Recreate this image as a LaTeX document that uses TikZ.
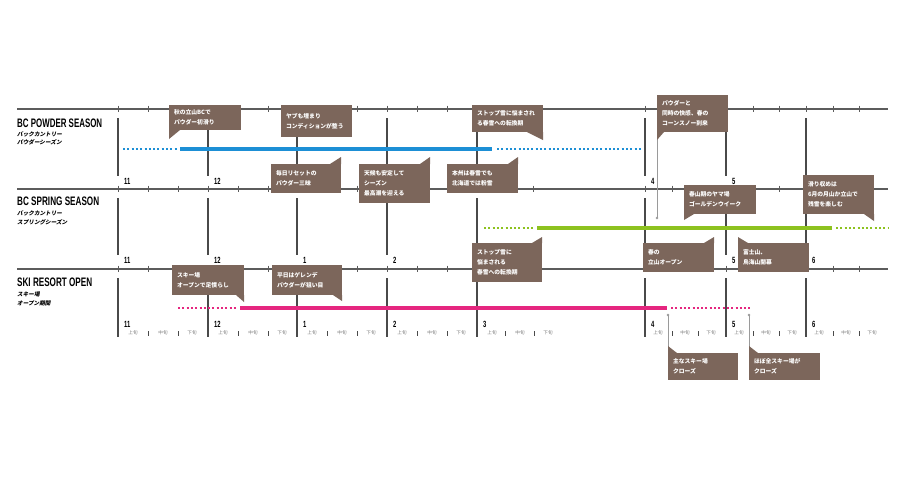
\documentclass[tikz,border=0pt]{standalone}
\usepackage{graphicx}
\usepackage{fontspec}
\setmainfont{Liberation Sans}
\newfontfamily\jp{Noto Sans CJK JP}
\newfontfamily\jpsl{Noto Sans CJK JP}[FakeSlant=0.2]
\definecolor{axgray}{HTML}{5C5C5C}
\definecolor{mgray}{HTML}{4A4A4A}
\definecolor{cbrown}{HTML}{7C665B}
\definecolor{cblue}{HTML}{1D8FD5}
\definecolor{cgreen}{HTML}{8DC21F}
\definecolor{cpink}{HTML}{E5267F}
\definecolor{leadgray}{HTML}{9A9A9A}
\definecolor{jungray}{HTML}{7A7A7A}
\begin{document}
\begin{tikzpicture}[x=1pt,y=-1pt,
  axisline/.style={draw=axgray,line width=1.3pt},
  tickmark/.style={draw=axgray,line width=1pt},
  monthline/.style={draw=mgray,line width=1.4pt},
  monthlbl/.style={font=\bfseries\fontsize{9}{9}\selectfont,inner sep=0pt,anchor=base west},
  junlbl/.style={font=\jp\fontsize{4.6}{4.6}\selectfont,text=jungray,inner sep=0pt,anchor=base},
  junbar/.style={draw=mgray,line width=0.8pt},
  title/.style={inner sep=0pt,anchor=base west},
  subt/.style={font=\jpsl\bfseries\fontsize{5.6}{7}\selectfont,inner sep=0pt,anchor=base west},
  solidbar/.style={line width=4pt},
  dotbar/.style={line width=2.4pt,dash pattern=on 2pt off 2.3pt},
  callout/.style={fill=cbrown,text=white,anchor=north west,outer sep=0pt,inner xsep=5pt,inner ysep=0pt,align=left,font=\jp\bfseries\fontsize{5.8}{10}\selectfont},
  tail/.style={fill=cbrown},
  leader/.style={draw=leadgray,line width=1pt},
]
\fill[white] (0,0) rectangle (900,483);
\useasboundingbox (0,0) rectangle (900,483);

% horizontal axes
\foreach \ry in {109,189,269}{
  \draw[axisline] (17,\ry) -- (888,\ry);
  \foreach \tx in {118,148,178,208,238,268,297,327,357,387,417,447,477,505,533,645,672,699,726,753,779,806,833,859}
    \draw[tickmark] (\tx,\ry-3.5) -- (\tx,\ry+2.5);
}

% month lines
\foreach \mx in {118,208,297,387,477,645,726,806}{
  \draw[monthline] (\mx,118) -- (\mx,176);
  \draw[monthline] (\mx,198) -- (\mx,255);
  \draw[monthline] (\mx,278) -- (\mx,337);
}
% month labels (only those not hidden by callouts)
\foreach \mx/\mn in {118/11,208/12,645/4,726/5}
  \node[monthlbl] (ma\mn) at (\mx+6,184) {\scalebox{0.65}[1]{\mn}};
\foreach \mx/\mn in {118/11,208/12,297/1,387/2,726/5,806/6}
  \node[monthlbl] (mb\mn) at (\mx+6,263.5) {\scalebox{0.65}[1]{\mn}};
\foreach \mx/\mn in {118/11,208/12,297/1,387/2,477/3,645/4,726/5,806/6}
  \node[monthlbl] (mc\mn) at (\mx+6,327) {\scalebox{0.65}[1]{\mn}};
% 上旬 中旬 下旬
\foreach \mx/\mn/\a/\b/\c/\d/\e in {118/11/15/30/45/60/74,208/12/15/30/45/60/74,297/1/15/30/45/60/74,387/2/15/30/45/60/74,477/3/15/28/43/57/71,645/4/13/27/40/53/66,726/5/13/27/40/53/66,806/6/13/27/40/53/66}{
  \node[junlbl] (ja\mn) at (\mx+\a,334.8) {上旬};
  \node[junlbl] (jb\mn) at (\mx+\c,334.8) {中旬};
  \node[junlbl] (jc\mn) at (\mx+\e,334.8) {下旬};
  \draw[junbar] (\mx+\b,331) -- (\mx+\b,335.5);
  \draw[junbar] (\mx+\d,331) -- (\mx+\d,335.5);
}

% titles
\node[title] (t1) at (17,127) {\resizebox{85pt}{8.6pt}{\bfseries BC POWDER SEASON}};
\node[subt] (s1a) at (17,136.6) {バックカントリー};
\node[subt] (s1b) at (17,144.6) {パウダーシーズン};
\node[title] (t2) at (17,205) {\resizebox{82pt}{8.6pt}{\bfseries BC SPRING SEASON}};
\node[subt] (s2a) at (17,215.6) {バックカントリー};
\node[subt] (s2b) at (17,224.6) {スプリングシーズン};
\node[title] (t3) at (17,286) {\resizebox{75pt}{8.6pt}{\bfseries SKI RESORT OPEN}};
\node[subt] (s3a) at (17,296.6) {スキー場};
\node[subt] (s3b) at (17,305.6) {オープン期間};

% season bars
\draw[cblue,dotbar] (123,149) -- (177,149);
\draw[cblue,solidbar] (180,149) -- (492,149);
\draw[cblue,dotbar] (497,149) -- (641,149);
\draw[cgreen,dotbar] (484,228) -- (534,228);
\draw[cgreen,solidbar] (537,228) -- (832,228);
\draw[cgreen,dotbar] (836,228) -- (888,228);
\draw[cpink,dotbar] (178,308) -- (238,308);
\draw[cpink,solidbar] (240,308) -- (667,308);
\draw[cpink,dotbar] (671,308) -- (750,308);

% leaders
\coordinate (c4tip) at (657,218);
\coordinate (c15tip) at (668,315);
\coordinate (c16tip) at (749,315);
\draw[leader] (657,138) -- (c4tip);
\fill[leadgray] (c4tip) circle (1.4);
\draw[leader] (c15tip) -- (668,350);
\fill[leadgray] (c15tip) circle (1.4);
\draw[leader] (c16tip) -- (749,350);
\fill[leadgray] (c16tip) circle (1.4);

% callouts: row 1 above
\node[callout,text width=62pt,minimum height=25pt] (c1) at (169,105) {秋の立山BCで\\パウダー初滑り};
\fill[tail] (c1.south west) -- ++(0,9) -- ++(11,-9) -- cycle;
\node[callout,text width=61pt,minimum height=32pt] (c2) at (281,105) {ヤブも埋まり\\コンディションが整う};
\node[callout,text width=61pt,minimum height=27pt] (c3) at (472,105) {ストップ雪に悩まされ\\る春雪への転換期};
\fill[tail] (c3.south east) -- ++(0,8) -- ++(-16,-8) -- cycle;
\node[callout,text width=61pt,minimum height=37pt] (c4) at (657,95) {パウダーと\\同時の快感、春の\\コーンスノー到来};
\fill[tail] (c4.south west) -- ++(0,8) -- ++(7,-8) -- cycle;
% row 1 below
\node[callout,text width=60pt,minimum height=29pt] (c5) at (271,164) {毎日リセットの\\パウダー三昧};
\fill[tail] (c5.north east) -- ++(0,-7) -- ++(-11,7) -- cycle;
\node[callout,text width=61pt,minimum height=39pt] (c6) at (359,164) {天候も安定して\\シーズン\\最高潮を迎える};
\fill[tail] (c6.north east) -- ++(0,-7) -- ++(-10,7) -- cycle;
\node[callout,text width=61pt,minimum height=29pt] (c7) at (447,164) {本州は春雪でも\\北海道では粉雪};
\fill[tail] (c7.north east) -- ++(0,-7) -- ++(-10,7) -- cycle;
% row 2 above
\node[callout,text width=62pt,minimum height=29pt] (c8) at (684,185) {春山期のヤマ場\\ゴールデンウイーク};
\fill[tail] (c8.south west) -- ++(0,6) -- ++(10,-6) -- cycle;
\node[callout,text width=61pt,minimum height=39pt] (c9) at (803,175) {滑り収めは\\6月の月山か立山で\\残雪を楽しむ};
\fill[tail] (c9.south east) -- ++(0,7) -- ++(-10,-7) -- cycle;
% row 2 below
\node[callout,text width=60pt,minimum height=39pt] (c10) at (472,243) {ストップ雪に\\悩まされる\\春雪への転換期};
\fill[tail] (c10.north east) -- ++(0,-6) -- ++(-10,6) -- cycle;
\node[callout,text width=61pt,minimum height=29pt] (c11) at (643,243) {春の\\立山オープン};
\fill[tail] (c11.north east) -- ++(0,-6) -- ++(-10,6) -- cycle;
\node[callout,text width=61pt,minimum height=29pt] (c12) at (738,243) {富士山、\\鳥海山開幕};
\fill[tail] (c12.north west) -- ++(0,-6) -- ++(10,6) -- cycle;
% row 3 above
\node[callout,text width=62pt,minimum height=30pt] (c13) at (172,265) {スキー場\\オープンで足慣らし};
\fill[tail] (c13.south east) -- ++(0,7) -- ++(-8,-7) -- cycle;
\node[callout,text width=60pt,minimum height=30pt] (c14) at (272,265) {平日はゲレンデ\\パウダーが狙い目};
\fill[tail] (c14.south east) -- ++(0,6) -- ++(-9,-6) -- cycle;
% row 3 below
\node[callout,text width=60pt,minimum height=27pt] (c15) at (668,353) {主なスキー場\\クローズ};
\fill[tail] (c15.north west) -- ++(0,-7) -- ++(9,7) -- cycle;
\node[callout,text width=61pt,minimum height=27pt] (c16) at (749,353) {ほぼ全スキー場が\\クローズ};
\fill[tail] (c16.north west) -- ++(0,-7) -- ++(9,7) -- cycle;
\end{tikzpicture}
\end{document}
